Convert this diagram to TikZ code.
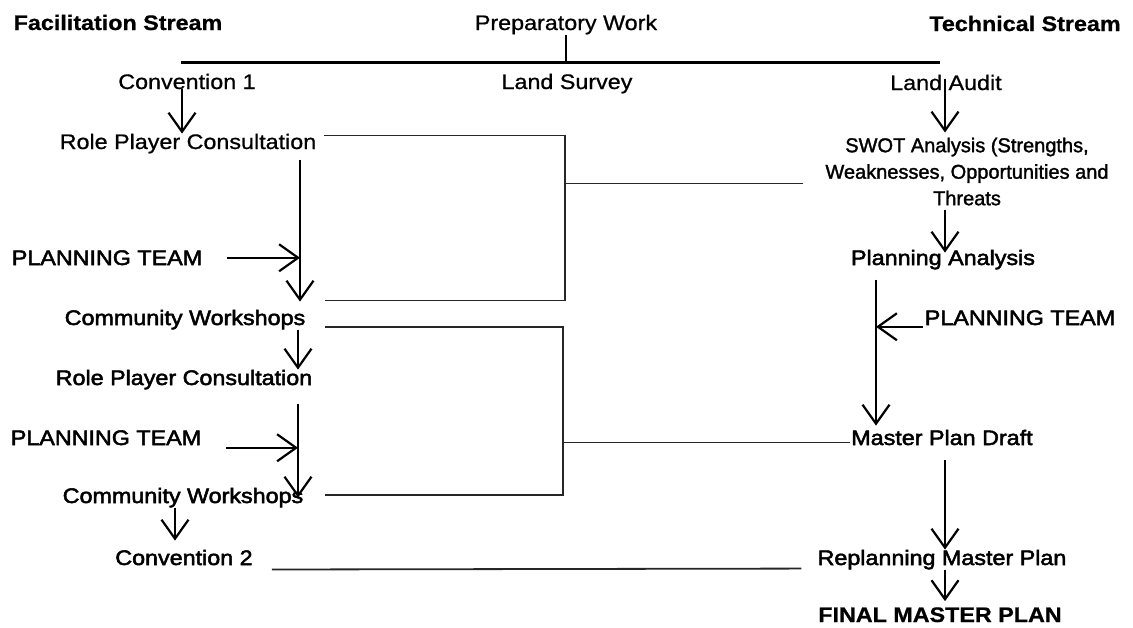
\documentclass[tikz,border=0pt]{standalone}
\usepackage{fontspec}
\setmainfont{Liberation Sans}[FakeStretch=1.11,FakeBold=0.8]
\newfontfamily\darkfont{Liberation Sans}[FakeStretch=1.11,FakeBold=2.4]
\newfontfamily\swotfont{Liberation Sans}[FakeBold=1.6]
\usetikzlibrary{arrows.meta,calc}
\begin{document}
\begin{tikzpicture}[x=1pt,y=-1pt,
  txt/.style={anchor=base, inner sep=0pt, font=\fontsize{21}{25}\selectfont},
  dark/.style={anchor=base, inner sep=0pt, font=\fontsize{21}{25}\selectfont\darkfont},
  head/.style={anchor=base, inner sep=0pt, font=\fontsize{21}{25}\selectfont\bfseries},
  swotbox/.style={anchor=north, inner sep=0pt, align=center, font=\fontsize{20}{26.5}\selectfont\swotfont},
  arr/.style={line width=2.2pt, -{Straight Barb[length=19pt,width=27pt]}},
  link/.style={line width=1.8pt, black!85},
  topline/.style={line width=3pt}]
\useasboundingbox (0,0) rectangle (1133,627);

% titles
\node[head] (fs) at (118,30) {Facilitation Stream};
\node[txt]  (pw) at (566,30) {Preparatory Work};
\node[head] (ts) at (1025,31) {Technical Stream};

% top bar
\coordinate (topL) at (181,62);
\coordinate (topR) at (940,62);
\draw[topline] (topL) -- (topR);
\draw[line width=1.5pt] (pw.south) -- (pw.south |- topL);

% left column
\node[txt]  (conv1) at (187,89)  {Convention 1};
\node[txt]  (ls)    at (567,89)  {Land Survey};
\node[txt]  (la)    at (946,90)  {Land Audit};
\node[txt]  (rpc1)  at (188,149) {Role Player Consultation};
\node[dark] (pt1)   at (107,265) {PLANNING TEAM};
\node[dark] (cw1)   at (185,325) {Community Workshops};
\node[dark] (rpc2)  at (184,385) {Role Player Consultation};
\node[dark] (pt2)   at (106,445) {PLANNING TEAM};
\node[dark] (cw2)   at (183,503) {Community Workshops};
\node[dark] (conv2) at (184,565) {Convention 2};

% right column
\node[swotbox] (swot) at (967,137.5) {SWOT Analysis (Strengths,\\Weaknesses, Opportunities and\\Threats};
\node[dark] (pa)    at (943,265)  {Planning Analysis};
\node[dark] (ptR)   at (1020,325) {PLANNING TEAM};
\node[dark] (mpd)   at (942,445)  {Master Plan Draft};
\node[dark] (rep)   at (942,565)  {Replanning Master Plan};
\node[head] (final) at (940,622)  {FINAL MASTER PLAN};

% column guides
\coordinate (cA)  at (182,0);
\coordinate (cB)  at (300,0);
\coordinate (cB2) at (298,0);
\coordinate (cC)  at (175,0);
\coordinate (cR)  at (945,0);
\coordinate (cR2) at (876,0);
\coordinate (bus1) at (565,0);
\coordinate (bus2) at (563,0);

% left arrows
\draw[arr] (conv1.south -| cA) -- (rpc1.north -| cA);
\draw[arr] ($(rpc1.south -| cB)+(0,6)$) -- ($(cw1.north -| cB)+(0,-8)$);
\draw[arr] ($(pt1.east)+(25,0)$) -- (pt1.east -| cB);
\draw[arr] (cw1.south -| cB2) -- (rpc2.north -| cB2);
\draw[arr] ($(rpc2.south -| cB2)+(0,14)$) -- ($(cw2.north -| cB2)+(0,10)$);
\draw[arr] ($(pt2.east)+(25,10)$) -- ($(pt2.east -| cB2)+(0,10)$);
\draw[arr] (cw2.south -| cC) -- ($(conv2.north -| cC)+(0,-9)$);

% right arrows
\draw[arr] ($(la.north -| cR)+(0,4)$) -- ($(swot.north -| cR)+(0,-5)$);
\draw[arr] ($(swot.south -| cR)+(0,4)$) -- ($(pa.north -| cR)+(0,3)$);
\draw[arr] ($(pa.south -| cR2)+(0,10)$) -- ($(mpd.north -| cR2)+(0,-4)$);
\draw[arr] ($(ptR.west)+(-2,9)$) -- ($(ptR.west -| cR2)+(0,9)$);
\draw[arr] ($(mpd.south -| cR)+(0,15)$) -- (rep.north -| cR);
\draw[arr] (rep.south -| cR) -- ($(final.north -| cR)+(0,-6)$);

% links between streams
\path ($(rpc1.east)+(8,-8)$) coordinate (rpcJ);
\path ($(cw1.east)+(20,-19)$) coordinate (cw1K);
\path ($(cw1.east)+(20,7.5)$) coordinate (cw1J);
\path ($(cw2.east)+(22,-2.5)$) coordinate (cw2J);
\path ($(swot.west)+(-22,12)$) coordinate (swotJ);
\path ($(mpd.west)+(-1,5)$) coordinate (mpdJ);
\draw[link] (rpcJ) -| (bus1 |- cw1K) -- (cw1K);
\draw[link] (swotJ) -- (swotJ -| bus1);
\draw[link] (cw1J) -| (bus2 |- cw2J) -- (cw2J);
\draw[link] (mpdJ) -- (mpdJ -| bus2);
\draw[link] ($(conv2.east)+(19,12)$) -- ($(rep.west)+(-16,9)$);
\end{tikzpicture}
\end{document}
